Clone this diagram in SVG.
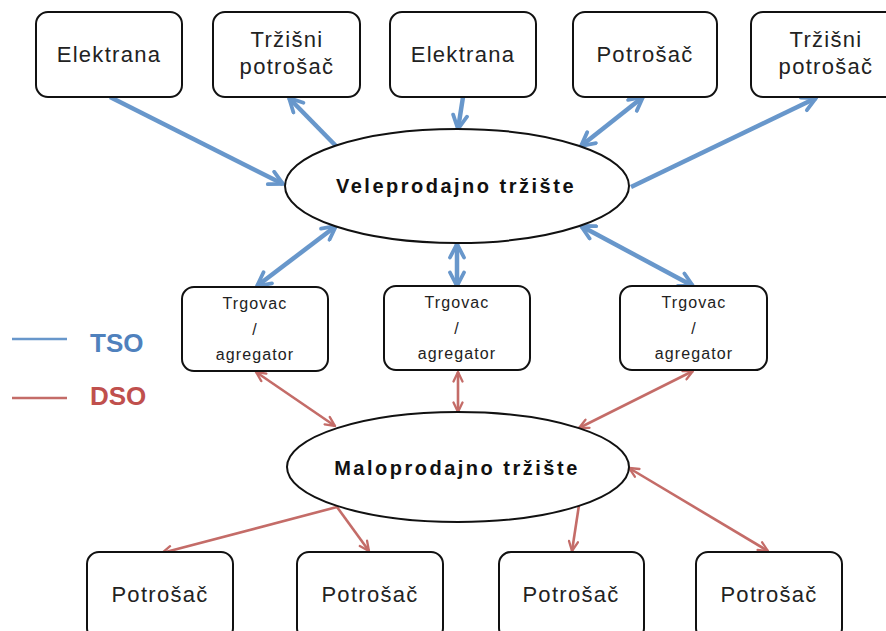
<svg xmlns="http://www.w3.org/2000/svg" width="886" height="631" viewBox="0 0 886 631">
<style>
.box{fill:#fff;stroke:#111;stroke-width:2}
.ell{fill:#fff;stroke:#111;stroke-width:2}
.t{font-family:"Liberation Sans",Arial,sans-serif;font-size:22px;letter-spacing:1.3px;fill:#222;text-anchor:middle}
.s{font-family:"Liberation Sans",Arial,sans-serif;font-size:16px;letter-spacing:1.1px;fill:#222;text-anchor:middle}
.b{font-family:"Liberation Sans",Arial,sans-serif;font-size:20px;font-weight:bold;letter-spacing:2.5px;fill:#111;text-anchor:middle}
.tso{stroke:#6897cb;stroke-width:4.5;fill:none}
.dso{stroke:#c46c68;stroke-width:2.6;fill:none}
.lg{font-family:"Liberation Sans",Arial,sans-serif;font-size:26px;font-weight:bold}
</style>
<defs>
<marker id="ab" viewBox="0 0 18 18" markerWidth="18" markerHeight="18" refX="16" refY="9" orient="auto-start-reverse" markerUnits="userSpaceOnUse">
<path d="M2.5,2 L16,9 L2.5,16" fill="none" stroke="#6897cb" stroke-width="3.8" stroke-linecap="round"/>
</marker>
<marker id="ar" viewBox="0 0 12 12" markerWidth="12" markerHeight="12" refX="11" refY="6" orient="auto-start-reverse" markerUnits="userSpaceOnUse">
<path d="M1.5,1.5 L11,6 L1.5,10.5" fill="none" stroke="#c46c68" stroke-width="2.3" stroke-linecap="round"/>
</marker>
</defs>
<rect width="886" height="631" fill="#fff"/>

<g id="connectors">
<path class="tso" d="M110,97 L283,184" marker-end="url(#ab)"/>
<path class="tso" d="M336,146 L289,98" marker-end="url(#ab)"/>
<path class="tso" d="M463,97 L458,129" marker-end="url(#ab)"/>
<path class="tso" d="M581,146 L643,97" marker-start="url(#ab)" marker-end="url(#ab)"/>
<path class="tso" d="M631,187 L816,98" marker-end="url(#ab)"/>
<path class="tso" d="M336,226 L257,286" marker-start="url(#ab)" marker-end="url(#ab)"/>
<path class="tso" d="M457,244 L457,286" marker-start="url(#ab)" marker-end="url(#ab)"/>
<path class="tso" d="M581,226 L693,286" marker-start="url(#ab)" marker-end="url(#ab)"/>
<path class="dso" d="M256,372 L335,426" marker-start="url(#ar)" marker-end="url(#ar)"/>
<path class="dso" d="M458,372 L458,412" marker-start="url(#ar)" marker-end="url(#ar)"/>
<path class="dso" d="M693,371 L579,428" marker-start="url(#ar)" marker-end="url(#ar)"/>
<path class="dso" d="M337,507 L162,553" marker-end="url(#ar)"/>
<path class="dso" d="M337,507 L369,551" marker-end="url(#ar)"/>
<path class="dso" d="M579,505 L572,551" marker-end="url(#ar)"/>
<path class="dso" d="M629,468 L768,551" marker-start="url(#ar)" marker-end="url(#ar)"/>
</g>

<g id="elektrana1"><rect class="box" x="36" y="12" width="146" height="85" rx="12"/><text class="t" x="109" y="62">Elektrana</text></g>
<g id="trzisni1"><rect class="box" x="213" y="12" width="147" height="85" rx="12"/><text class="t" x="287" y="47">Tržišni</text><text class="t" x="287" y="74">potrošač</text></g>
<g id="elektrana2"><rect class="box" x="390" y="12" width="146" height="85" rx="12"/><text class="t" x="463" y="62">Elektrana</text></g>
<g id="potrosac_top"><rect class="box" x="573" y="12" width="144" height="85" rx="12"/><text class="t" x="645" y="62">Potrošač</text></g>
<g id="trzisni2"><rect class="box" x="751" y="12" width="148" height="85" rx="12"/><text class="t" x="826" y="47">Tržišni</text><text class="t" x="826" y="74">potrošač</text></g>

<g id="veleprodajno"><ellipse class="ell" cx="457" cy="186" rx="172" ry="57"/><text class="b" x="456" y="193">Veleprodajno tržište</text></g>

<g id="trgovac1"><rect class="box" x="182" y="287" width="146" height="84" rx="12"/><text class="s" x="255" y="309">Trgovac</text><text class="s" x="255" y="335">/</text><text class="s" x="255" y="360">agregator</text></g>
<g id="trgovac2"><rect class="box" x="384" y="286" width="146" height="84" rx="12"/><text class="s" x="457" y="308">Trgovac</text><text class="s" x="457" y="334">/</text><text class="s" x="457" y="359">agregator</text></g>
<g id="trgovac3"><rect class="box" x="620" y="286" width="147" height="84" rx="12"/><text class="s" x="694" y="308">Trgovac</text><text class="s" x="694" y="334">/</text><text class="s" x="694" y="359">agregator</text></g>

<g id="maloprodajno"><ellipse class="ell" cx="458" cy="467" rx="171" ry="55"/><text class="b" x="457" y="475">Maloprodajno tržište</text></g>

<g id="potrosac1"><rect class="box" x="87" y="552" width="146" height="88" rx="12"/><text class="t" x="160" y="602">Potrošač</text></g>
<g id="potrosac2"><rect class="box" x="297" y="552" width="146" height="88" rx="12"/><text class="t" x="370" y="602">Potrošač</text></g>
<g id="potrosac3"><rect class="box" x="499" y="552" width="145" height="88" rx="12"/><text class="t" x="571" y="602">Potrošač</text></g>
<g id="potrosac4"><rect class="box" x="696" y="552" width="146" height="88" rx="12"/><text class="t" x="769" y="602">Potrošač</text></g>

<g id="legend">
<line x1="12" y1="339" x2="67" y2="339" stroke="#6897cb" stroke-width="2.5"/>
<text class="lg" x="90" y="352" fill="#4f81bd">TSO</text>
<line x1="12" y1="398" x2="67" y2="398" stroke="#c46c68" stroke-width="2.5"/>
<text class="lg" x="90" y="405" fill="#c0504d">DSO</text>
</g>
</svg>
